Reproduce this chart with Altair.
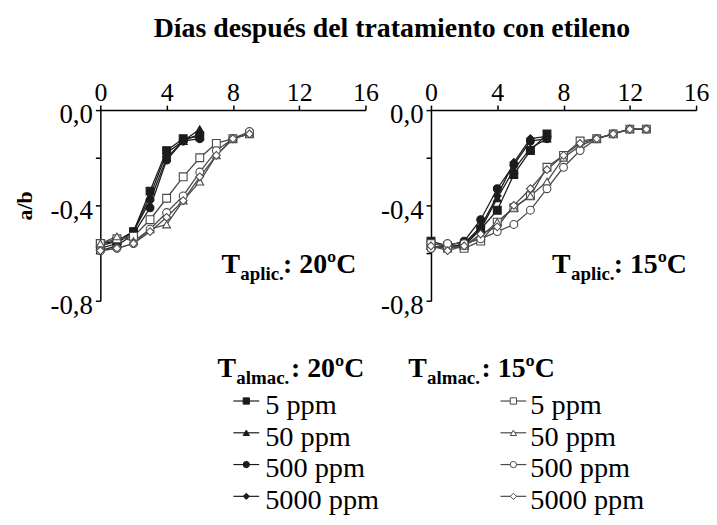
import altair as alt
import pandas as pd

FONT = "Liberation Serif"

# ---------------- data ----------------
doses = ["5 ppm", "50 ppm", "500 ppm", "5000 ppm"]
shapes = ["square", "triangle-up", "circle", "diamond"]

# Panel 1: T aplic. 20ºC
p1_days_s20 = [0, 1, 2, 3, 4, 5, 6]
p1_s20_5 = [-0.56, -0.55, -0.51, -0.34, -0.17, -0.12, -0.11]
p1_s20_50 = [-0.57, -0.55, -0.51, -0.36, -0.18, -0.13, -0.08]
p1_s20_500 = [-0.59, -0.57, -0.52, -0.41, -0.21, -0.13, -0.12]
p1_s20_5000 = [-0.58, -0.56, -0.51, -0.38, -0.20, -0.13, -0.10]

p1_days_s15 = [0, 1, 2, 3, 4, 5, 6, 7, 8, 9]
p1_s15_5 = [-0.56, -0.54, -0.53, -0.46, -0.37, -0.28, -0.20, -0.14, -0.12, -0.10]
p1_s15_50 = [-0.56, -0.53, -0.55, -0.50, -0.48, -0.38, -0.30, -0.19, -0.12, -0.10]
p1_s15_500 = [-0.59, -0.58, -0.56, -0.50, -0.43, -0.36, -0.26, -0.17, -0.12, -0.09]
p1_s15_5000 = [-0.59, -0.58, -0.56, -0.51, -0.45, -0.38, -0.28, -0.19, -0.12, -0.10]

# Panel 2: T aplic. 15ºC
p2_days_s20 = [0, 1, 2, 3, 4, 5, 6, 7]
p2_s20_5 = [-0.55, -0.57, -0.57, -0.50, -0.42, -0.27, -0.17, -0.10]
p2_s20_50 = [-0.57, -0.58, -0.56, -0.50, -0.37, -0.25, -0.16, -0.12]
p2_s20_500 = [-0.58, -0.57, -0.55, -0.46, -0.33, -0.23, -0.13, -0.12]
p2_s20_5000 = [-0.57, -0.58, -0.56, -0.49, -0.36, -0.22, -0.12, -0.11]

p2_days_s15 = [0, 1, 2, 3, 4, 5, 6, 7, 8, 9, 10, 11, 12, 13]
p2_s15_5 = [-0.56, -0.57, -0.58, -0.55, -0.47, -0.41, -0.36, -0.24, -0.19, -0.13, -0.12, -0.10, -0.08, -0.08]
p2_s15_50 = [-0.57, -0.58, -0.57, -0.53, -0.47, -0.41, -0.36, -0.30, -0.20, -0.15, -0.12, -0.10, -0.08, -0.08]
p2_s15_500 = [-0.58, -0.56, -0.56, -0.54, -0.51, -0.48, -0.42, -0.33, -0.24, -0.17, -0.12, -0.10, -0.08, -0.08]
p2_s15_5000 = [-0.57, -0.59, -0.57, -0.52, -0.49, -0.40, -0.33, -0.25, -0.19, -0.14, -0.12, -0.10, -0.08, -0.08]

x_ticks = [0, 2, 4, 6, 8, 10, 12, 14, 16]
y_ticks = [-0.8, -0.6, -0.4, -0.2, 0.0]

title_text = "Días después del tratamiento con etileno"
y_title = "a/b"
aplic_temps = ["20ºC", "15ºC"]
store_temps = ["20ºC", "15ºC"]
store_keys = ["20", "15"]

# ---------------- build table ----------------
rows = []
def add(panel, store, days, series_list):
    for dose, vals in zip(doses, series_list):
        for d, v in zip(days, vals):
            rows.append({"panel": panel, "store": store, "dose": dose,
                         "series": store + "_" + dose, "day": d, "ab": v})

add("p1", "20", p1_days_s20, [p1_s20_5, p1_s20_50, p1_s20_500, p1_s20_5000])
add("p1", "15", p1_days_s15, [p1_s15_5, p1_s15_50, p1_s15_500, p1_s15_5000])
add("p2", "20", p2_days_s20, [p2_s20_5, p2_s20_50, p2_s20_500, p2_s20_5000])
add("p2", "15", p2_days_s15, [p2_s15_5, p2_s15_50, p2_s15_500, p2_s15_5000])
data = pd.DataFrame(rows)

# ---------------- styles / layout ----------------
W, H = 267, 192
FILL_SCALE = alt.Scale(domain=store_keys, range=["#1c1c1c", "#ffffff"])
STROKE_SCALE = alt.Scale(domain=store_keys, range=["#1c1c1c", "#555555"])
LINE_SCALE = alt.Scale(domain=store_keys, range=["#1c1c1c", "#4a4a4a"])
SHAPE_SCALE = alt.Scale(domain=doses, range=shapes)

y_label_expr = ("round(datum.value*10) % 4 == 0 ? "
                "(datum.value < 0 ? '-' : '') + '0,' + abs(round(datum.value*10)) : ''")

BIG, SUB, LEG = 28, 19, 28.5


def text_layer(txt, x, y, size, bold=True, dy=0):
    return alt.Chart(pd.DataFrame({"t": [txt]})).mark_text(
        font=FONT, fontSize=size, fontWeight="bold" if bold else "normal",
        align="left", baseline="alphabetic", color="black", dy=dy
    ).encode(text="t:N", x=alt.value(x), y=alt.value(y))


def make_panel(panel, aplic_temp, store_key, store_temp, leg):
    df = data[data["panel"] == panel]
    xs = alt.Scale(domain=[0, 16], nice=False, zero=False)
    ys = alt.Scale(domain=[-0.8, 0], nice=False, zero=False)
    x = alt.X("day:Q", scale=xs,
              axis=alt.Axis(orient="top", values=x_ticks, title=None,
                            labelExpr="datum.value % 4 == 0 ? datum.label : ''",
                            labelFlush=False, labelOverlap=False))
    y = alt.Y("ab:Q", scale=ys,
              axis=alt.Axis(values=y_ticks, labelExpr=y_label_expr,
                            title=y_title if panel == "p1" else None,
                            labelOverlap=False, labelFlush=False, labelOffset=5))

    lines = alt.Chart(df).mark_line(strokeWidth=1.3).encode(
        x=x, y=y, detail="series:N",
        stroke=alt.Stroke("store:N", scale=LINE_SCALE, legend=None),
        order="day:Q")
    points = alt.Chart(df).mark_point(filled=True, opacity=1, size=62, strokeWidth=1.1).encode(
        x=alt.X("day:Q", scale=xs),
        y=alt.Y("ab:Q", scale=ys, axis=None),
        shape=alt.Shape("dose:N", scale=SHAPE_SCALE, legend=None),
        fill=alt.Fill("store:N", scale=FILL_SCALE, legend=None),
        stroke=alt.Stroke("store:N", scale=STROKE_SCALE, legend=None))

    # panel annotation  T_aplic.: xxºC
    ax, ay = 122, 164
    ann = [text_layer("T", ax, ay, BIG),
           text_layer("aplic.", ax + 19, ay, SUB, dy=7),
           text_layer(": " + aplic_temp, ax + 62, ay, BIG)]

    # legend column for this storage temperature
    hx, hy = leg["hx"], leg["hy"]
    head = [text_layer("T", hx, hy, BIG),
            text_layer("almac.", hx + 19, hy, SUB, dy=7),
            text_layer(": " + store_temp, hx + 74, hy, BIG)]
    ldf = pd.DataFrame({"dose": doses, "row": list(range(len(doses))),
                        "store": [store_key] * len(doses)})
    ly = alt.Y("row:Q", scale=alt.Scale(domain=[0, 3], range=[leg["y0"], leg["y0"] + 3 * leg["gap"]]),
               axis=None)
    lbase = alt.Chart(ldf)
    lrule = lbase.mark_rule(strokeWidth=1.2).encode(
        x=alt.value(leg["sx"] - 13), x2=alt.value(leg["sx"] + 13), y=ly,
        color=alt.Color("store:N", scale=LINE_SCALE, legend=None))
    lpts = lbase.mark_point(filled=True, opacity=1, size=40, strokeWidth=1).encode(
        x=alt.value(leg["sx"]), y=ly,
        shape=alt.Shape("dose:N", scale=SHAPE_SCALE, legend=None),
        fill=alt.Fill("store:N", scale=FILL_SCALE, legend=None),
        stroke=alt.Stroke("store:N", scale=STROKE_SCALE, legend=None))
    ltxt = lbase.mark_text(font=FONT, fontSize=LEG, align="left", baseline="alphabetic",
                           dy=13, color="black").encode(
        x=alt.value(leg["tx"]), y=ly, text="dose:N")

    layers = [lines, points] + ann + head + [lrule, lpts, ltxt]
    return alt.layer(*layers).resolve_scale(y="independent").properties(width=W, height=H)


left = make_panel("p1", aplic_temps[0], store_keys[0], store_temps[0],
                  {"hx": 118, "hy": 269, "sx": 147, "tx": 166, "y0": 293, "gap": 32})
right = make_panel("p2", aplic_temps[1], store_keys[1], store_temps[1],
                   {"hx": -23, "hy": 269, "sx": 83, "tx": 100, "y0": 293, "gap": 32})

chart = alt.hconcat(left, right, spacing=66, bounds="flush").properties(
    title=alt.Title(title_text, font=FONT, fontSize=28, fontWeight="bold",
                    anchor="middle", dx=31, offset=37, color="black"),
    padding={"left": 5, "top": 5, "right": 0, "bottom": 0},
).configure_view(stroke=None).configure_axis(
    labelFont=FONT, labelColor="black",
    titleFont=FONT, titleFontSize=22, titleFontWeight="bold", titleColor="black",
    domainColor="black", domainWidth=1.5, tickColor="black", tickWidth=1.5,
    tickSize=5, grid=False
).configure_axisTop(labelPadding=0, labelFontSize=26).configure_axisLeft(
    labelPadding=3, titlePadding=14, labelFontSize=27)

chart.save("out.html", embed_options={"renderer": "svg", "actions": False})
